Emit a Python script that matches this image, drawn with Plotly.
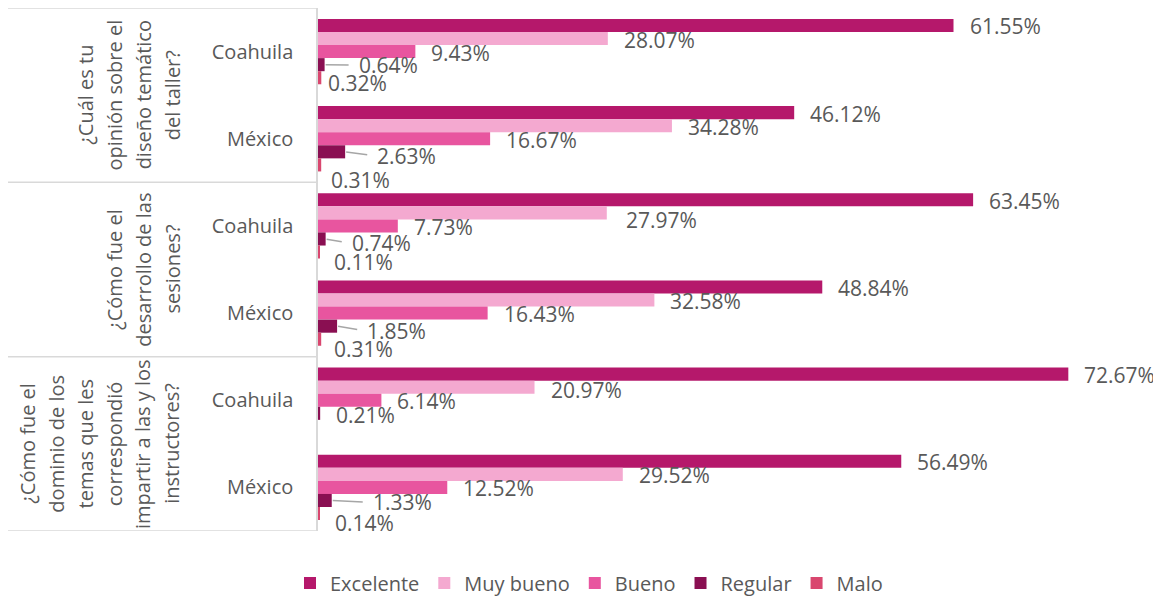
import plotly.graph_objects as go

# ---------------- data ----------------
question_lines = [
    ["¿Cuál es tu", "opinión sobre el", "diseño temático", "del taller?"],
    ["¿Cómo fue el", "desarrollo de las", "sesiones?"],
    ["¿Cómo fue el", "dominio de los", "temas que les", "correspondió",
     "impartir a las y los", "instructores?"],
]
regions = ["Coahuila", "México"]
series_names = ["Excelente", "Muy bueno", "Bueno", "Regular", "Malo"]

excelente = [61.55, 46.12, 63.45, 48.84, 72.67, 56.49]
muy_bueno = [28.07, 34.28, 27.97, 32.58, 20.97, 29.52]
bueno = [9.43, 16.67, 7.73, 16.43, 6.14, 12.52]
regular = [0.64, 2.63, 0.74, 1.85, 0.21, 1.33]
malo = [0.32, 0.31, 0.11, 0.31, None, 0.14]

# ---------------- style ----------------
colors = ["#B5186B", "#F4A9D0", "#E8559F", "#8A0F52", "#D9476F"]
TXT = "#595959"
FONT = "Open Sans"
BARGAP = 0.25

# label offsets in pixels: (dx from bar end, dy downward, leader line)
default_off = (14, 1, False)
label_off = {
    (0, 3): (32, 0.5, True), (0, 4): (5, 5.5, False),
    (1, 3): (30, 4, True), (1, 4): (7.5, 15, False),
    (2, 1): (17, 7, False), (2, 3): (24, 4, True), (2, 4): (13, 9.7, False),
    (3, 3): (28, 4.5, True), (3, 4): (11, 10, False),
    (4, 1): (14, 3.3, False), (4, 3): (14, 1.6, False),
    (5, 3): (39, 2, True), (5, 4): (13.5, 9, False),
}

values = [excelente, muy_bueno, bueno, regular, malo]
n_groups = len(excelente)
y_pos = list(range(n_groups))
tick_text = regions * len(question_lines)

fig = go.Figure()
for name, vals, col in zip(series_names, values, colors):
    fig.add_trace(go.Bar(
        name=name, x=vals, y=y_pos, orientation="h",
        marker=dict(color=col, line=dict(width=0)),
        hoverinfo="x+name",
    ))

w = (1 - BARGAP) / len(series_names)
annotations = []
for k, vals in enumerate(values):
    for g, v in enumerate(vals):
        if v is None:
            continue
        yc = g + (k - (len(series_names) - 1) / 2) * w
        dx, dy, leader = label_off.get((g, k), default_off)
        txt = f"{v:.2f}%"
        if leader:
            annotations.append(dict(
                x=v, y=yc, xref="x", yref="y", text=txt,
                showarrow=True, ax=dx, ay=dy, axref="pixel", ayref="pixel",
                xanchor="left", yanchor="middle",
                arrowhead=0, arrowwidth=1.5, arrowcolor="#A6A6A6",
                standoff=1, startstandoff=8,
                font=dict(family=FONT, size=21, color=TXT),
            ))
        else:
            annotations.append(dict(
                x=v, y=yc, xref="x", yref="y", text=txt, showarrow=False,
                xanchor="left", yanchor="middle", xshift=dx, yshift=-dy,
                font=dict(family=FONT, size=21, color=TXT),
            ))

# figure geometry (page adds an 8px body margin around the figure)
W, H = 1153, 589
L, R, T, B = 310, 17, 0, 66
plot_w = W - L - R
last_line_px = 164  # x pixel of the last text line of each question
line_step = 28.8
for q, lines in enumerate(question_lines):
    yc = q * len(regions) + (len(regions) - 1) / 2
    n = len(lines)
    for i, ln in enumerate(lines):
        xpx = last_line_px - (n - 1 - i) * line_step
        annotations.append(dict(
            x=(xpx - L) / plot_w, y=yc, xref="paper", yref="y",
            text=ln, showarrow=False, textangle=-90,
            xanchor="center", yanchor="middle",
            font=dict(family=FONT, size=20, color=TXT),
        ))

# table lines on the left
shapes = []
x0p = (0 - L) / plot_w
for q in range(len(question_lines) + 1):
    yb = q * len(regions) - 0.5
    shapes.append(dict(type="line", xref="paper", yref="y",
                       x0=x0p, x1=0, y0=yb, y1=yb,
                       line=dict(color="#D9D9D9", width=1.5)))

fig.update_layout(
    width=W, height=H,
    margin=dict(l=L, r=R, t=T, b=B, autoexpand=False),
    paper_bgcolor="white", plot_bgcolor="white",
    barmode="group", bargap=BARGAP, bargroupgap=0,
    font=dict(family=FONT, size=20, color=TXT),
    xaxis=dict(range=[0, 80], showgrid=False, zeroline=False,
               showticklabels=False, showline=False, fixedrange=True),
    yaxis=dict(range=[n_groups - 0.5, -0.5], tickmode="array",
               tickvals=y_pos, ticktext=tick_text, showgrid=False,
               zeroline=False, showline=True, linecolor="#D9D9D9",
               linewidth=1.5, ticks="", ticklabelstandoff=19,
               tickfont=dict(family=FONT, size=20, color=TXT)),
    legend=dict(orientation="h", xref="container", yref="container",
                x=581 / W, xanchor="center", y=(H - 575) / H,
                yanchor="middle", font=dict(family=FONT, size=20, color=TXT),
                traceorder="normal", itemclick=False),
    annotations=annotations, shapes=shapes,
    showlegend=True,
)

fig.write_html("out.html")
